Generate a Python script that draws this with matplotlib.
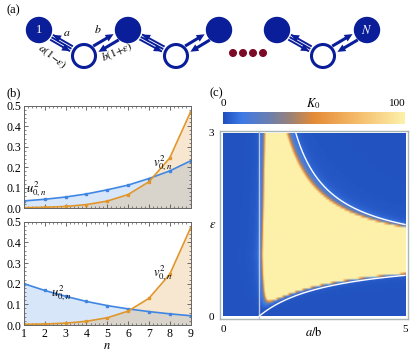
import numpy as np
import matplotlib
matplotlib.use("Agg")
import matplotlib.pyplot as plt
from matplotlib.patches import Circle, Polygon
from matplotlib.colors import LinearSegmentedColormap
from matplotlib.ticker import MultipleLocator

plt.rcParams['font.family'] = ['Liberation Serif', 'DejaVu Serif']
plt.rcParams['mathtext.fontset'] = 'stix'

# ---- data, panel (b) ----
n = [1, 2, 3, 4, 5, 6, 7, 8, 9]
u2_top = [0.036, 0.044, 0.055, 0.070, 0.090, 0.113, 0.145, 0.182, 0.231]
v2_top = [0.003, 0.005, 0.009, 0.018, 0.035, 0.067, 0.129, 0.245, 0.469]
u2_bot = [0.200, 0.167, 0.139, 0.114, 0.094, 0.078, 0.065, 0.054, 0.045]
v2_bot = [0.003, 0.005, 0.009, 0.018, 0.035, 0.067, 0.129, 0.245, 0.469]

# ---- data, panel (c): chain model ----
N_SITES = 18
K_MAX = 100
r_vals = np.linspace(0, 5, 150)
eps_vals = np.linspace(0, 3, 80)

BLUE = '#3f86e2'
ORANGE = '#e0962a'
DARK = '#0a1e9a'

fig = plt.figure(figsize=(4.15, 3.54), dpi=100)
W, H = 415.0, 354.0


def px_axes(x0, y0, x1, y1):
    return fig.add_axes([x0 / W, 1 - y1 / H, (x1 - x0) / W, (y1 - y0) / H])


# ================= panel (a) =================
axa = fig.add_axes([0, 1 - 80 / H, 1, 80 / H])
axa.set_xlim(0, 415)
axa.set_ylim(80, 0)
axa.axis('off')

filled = [(39, 30), (128, 30), (219, 30), (277, 30), (367, 30)]
opened = [(84, 56), (176, 56), (323, 56)]
R = 12.5


def head(ax, tip, d, size=8, width=7.5):
    d = np.asarray(d)
    p = np.array([-d[1], d[0]])
    tip = np.asarray(tip)
    base = tip - d * size
    ax.add_patch(Polygon([tip, base + p * width / 2, base - p * width / 2],
                         closed=True, color=DARK, lw=0, zorder=4))


def triple(ax, A, B):
    A, B = np.array(A, float), np.array(B, float)
    d = (B - A) / np.linalg.norm(B - A)
    p = np.array([d[1], -d[0]])  # points up-right
    s, e = A + d * (R + 2), B - d * (R + 2)
    for off in (-2.8, 0, 2.8):
        ax.plot([s[0] + p[0] * off, e[0] + p[0] * off],
                [s[1] + p[1] * off, e[1] + p[1] * off], color=DARK, lw=1.4,
                solid_capstyle='butt', zorder=3)
    head(ax, s + p * 2.8, -d)
    head(ax, e - p * 2.8, d)


def double(ax, A, B):
    A, B = np.array(A, float), np.array(B, float)
    d = (B - A) / np.linalg.norm(B - A)
    p = np.array([d[1], -d[0]])  # toward upper-left
    s, e = A + d * (R + 2), B - d * (R + 2)
    o = p * 3.8
    ax.plot([s[0] + o[0], e[0] - d[0] * 6 + o[0]], [s[1] + o[1], e[1] - d[1] * 6 + o[1]],
            color=DARK, lw=2.2, zorder=3)
    head(ax, e + o, d)
    ax.plot([s[0] + d[0] * 6 - o[0], e[0] - o[0]], [s[1] + d[1] * 6 - o[1], e[1] - o[1]],
            color=DARK, lw=2.2, zorder=3)
    head(ax, s - o, -d)


for A, B in [(filled[0], opened[0]), (filled[1], opened[1]), (filled[3], opened[2])]:
    triple(axa, A, B)
for A, B in [(opened[0], filled[1]), (opened[1], filled[2]), (opened[2], filled[4])]:
    double(axa, A, B)

for c in filled:
    axa.add_patch(Circle(c, R, color=DARK, zorder=5))
for c in opened:
    axa.add_patch(Circle(c, R - 1, facecolor='white', edgecolor=DARK, lw=2.2, zorder=5))
for x in [233, 243, 253, 263]:
    axa.add_patch(Circle((x, 53), 3.3, color='#7a0a26', zorder=5))

axa.text(39, 30, '1', color='white', ha='center', va='center', fontsize=9, zorder=6)
axa.text(367, 30, r'$N$', color='white', ha='center', va='center', fontsize=9, zorder=6)
axa.text(67, 33, r'$a$', ha='center', va='center', fontsize=8.5)
axa.text(98, 30, r'$b$', ha='center', va='center', fontsize=8.5)
axa.text(52, 57, r'$a(1\!-\!\varepsilon)$', ha='center', va='center', fontsize=8, rotation=-38)
axa.text(117, 52, r'$b(1\!+\!\varepsilon)$', ha='center', va='center', fontsize=8, rotation=24)
fig.text(6 / W, 1 - 10 / H, '(a)', fontsize=9, va='center')
fig.text(6 / W, 1 - 93 / H, '(b)', fontsize=9, va='center')
fig.text(210 / W, 1 - 93 / H, '(c)', fontsize=9, va='center')


# ================= panel (b) =================
def style_b(ax, show_x):
    ax.set_xlim(1, 9)
    ax.set_ylim(0, 0.5)
    ax.xaxis.set_major_locator(MultipleLocator(1))
    ax.xaxis.set_minor_locator(MultipleLocator(0.2))
    ax.yaxis.set_minor_locator(MultipleLocator(0.02))
    ax.set_yticks([0, 0.1, 0.2, 0.3, 0.4, 0.5])
    ax.set_yticklabels(['0.0', '0.1', '0.2', '0.3', '0.4', '0.5'])
    ax.tick_params(which='both', direction='in', top=True, right=True,
                   labelsize=8.5, pad=2, color='#555555')
    ax.tick_params(which='major', length=3, width=0.6)
    ax.tick_params(which='minor', length=1.5, width=0.5)
    if not show_x:
        ax.tick_params(labelbottom=False)
    for s in ax.spines.values():
        s.set_color('#666666')
        s.set_linewidth(0.7)


def draw_b(ax, u2, v2):
    ax.fill_between(n, 0, u2, color=BLUE, alpha=0.2, lw=0)
    ax.fill_between(n, 0, v2, color=ORANGE, alpha=0.22, lw=0)
    ax.plot(n, u2, color=BLUE, lw=1.2, marker='s', ms=1.8)
    ax.plot(n, v2, color=ORANGE, lw=1.2, marker='s', ms=1.8)


ax1 = px_axes(24, 105.7, 190.5, 208.3)
draw_b(ax1, u2_top, v2_top)
style_b(ax1, False)
ax1.text(1.1, 0.08, r'$u_{0,n}^2$', fontsize=9)
ax1.text(7.2, 0.205, r'$v_{0,n}^2$', fontsize=9)

ax2 = px_axes(24, 221.7, 190.5, 325)
draw_b(ax2, u2_bot, v2_bot)
style_b(ax2, True)
ax2.text(2.3, 0.14, r'$u_{0,n}^2$', fontsize=9)
ax2.text(7.2, 0.235, r'$v_{0,n}^2$', fontsize=9)
ax2.set_xlabel(r'$n$', fontsize=9, labelpad=0)


# ================= panel (c) =================
rr, ee = np.meshgrid(r_vals, eps_vals)
p = rr ** 2                                   # left vector ratio
q = (rr * (1 - ee) / (1 + ee)) ** 2           # right vector ratio
k = np.arange(N_SITES)[:, None, None]
S_p = np.sum(p[None] ** k, axis=0)
S_q = np.sum(q[None] ** k, axis=0)
S_pq = np.sum(np.sqrt(p * q)[None] ** k, axis=0)
K0 = np.clip(S_p * S_q / S_pq ** 2, 0, K_MAX)

cmap = LinearSegmentedColormap.from_list('k0', [
    (0.0, '#1f4fbd'), (0.10, '#3d7ae6'), (0.25, '#6a7fb0'), (0.38, '#a08272'),
    (0.50, '#e58b36'), (0.72, '#f4b866'), (1.0, '#fdf1aa')])

axc = px_axes(220, 131, 408, 319)
axc.imshow(K0, extent=(0, 5, 0, 3), origin='lower', aspect='auto', cmap=cmap,
           vmin=0, vmax=K_MAX, interpolation='bilinear')
axc.axvline(1, color='#b4c6ea', lw=1)
r_lo = np.linspace(1, 5, 200)
axc.plot(r_lo, (r_lo - 1) / (r_lo + 1), color='white', lw=1)
r_hi = np.linspace(2, 5, 200)
axc.plot(r_hi, (r_hi + 1) / (r_hi - 1), color='white', lw=1)
axc.set_xlim(-3 / 36.4, 5 + 3 / 36.4)
axc.set_ylim(-3 / 61, 3 + 2 / 61)
axc.set_xticks([0, 5])
axc.set_yticks([0, 3])
axc.tick_params(length=0, labelsize=8, pad=4)
for s in axc.spines.values():
    s.set_color('#aab5b5')
    s.set_linewidth(1)
axc.set_xlabel(r'$a/\mathrm{b}$', fontsize=9, labelpad=-6)
axc.set_ylabel(r'$\varepsilon$', fontsize=9, rotation=0, labelpad=-2)
axc.yaxis.set_label_coords(-0.04, 0.47)

axcb = px_axes(223, 112, 405, 124)
axcb.imshow(np.linspace(0, K_MAX, 256)[None, :], extent=(0, K_MAX, 0, 1), aspect='auto',
            cmap=cmap, vmin=0, vmax=K_MAX)
axcb.axis('off')
fig.text(223 / W, 1 - 104 / H, '0', fontsize=8, ha='center', va='center')
fig.text(397 / W, 1 - 104 / H, '100', fontsize=8, ha='center', va='center')
fig.text(313 / W, 1 - 104 / H, r'$K_0$', fontsize=9, ha='center', va='center')

fig.savefig('out.png', dpi=100)
